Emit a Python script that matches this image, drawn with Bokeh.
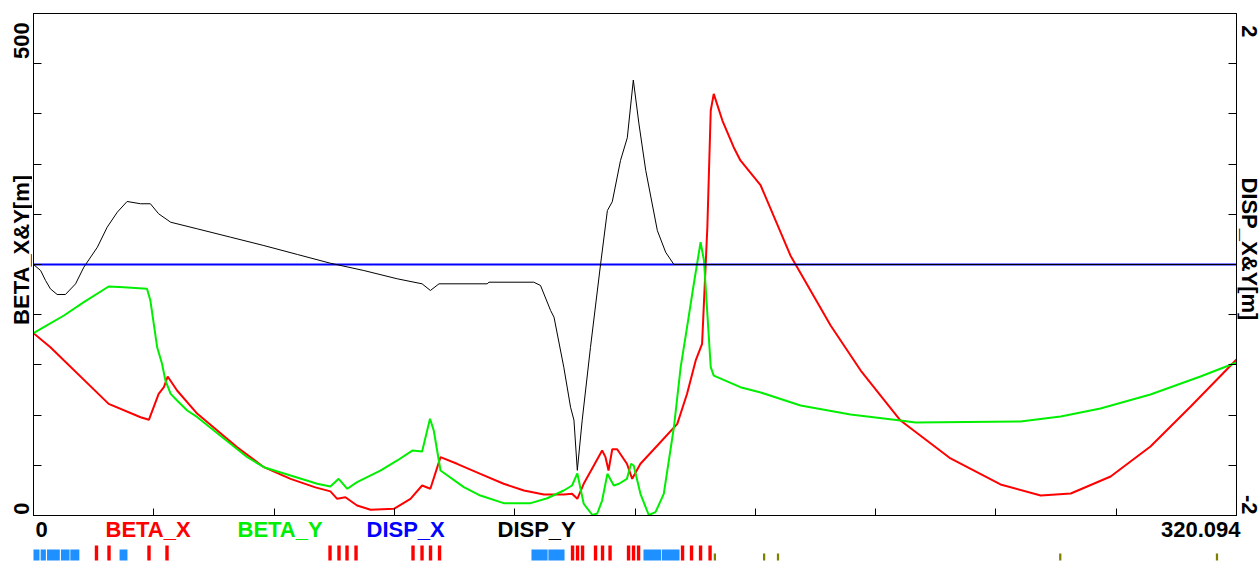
import math
from bokeh.plotting import figure
from bokeh.models import Range1d, LinearAxis, FixedTicker
from bokeh.core.properties import value
from bokeh.layouts import column, row
from bokeh.embed import file_html
from bokeh.resources import INLINE

# ---------------- data ----------------
S_MAX = 320.094

BETA_X_S = [0, 4.5, 20.0, 28.5, 30.7, 33.3, 34.7, 35.7, 38.2, 43.6, 48.9, 54.2, 61.3, 68.4, 75.0,
            79.0, 80.8, 83.0, 86.1, 89.7, 95.9, 100.3, 103.4, 105.6, 108.3, 112.7, 118.9, 125.1,
            130.5, 135.8, 141.1, 143.3, 144.7, 146.4, 149.1, 151.3, 152.2, 153.0, 154.0, 155.3,
            157.9, 159.3, 161.5, 166.0, 171.3, 173.9, 176.2, 177.9, 179.3, 180.2, 181.0, 183.3,
            186.3, 188.1, 193.5, 201.4, 212.1, 220.1, 230.7, 244.0, 257.3, 268.0, 276.0, 286.6,
            297.2, 307.9, 320.094]
BETA_X = [181.6, 167.6, 111.2, 97.9, 95.3, 121.2, 127.8, 138.4, 124.5, 101.3, 84.7, 68.0, 48.1, 36.5, 28.0,
          24.0, 16.6, 18.2, 10.0, 5.7, 6.6, 16.6, 29.9, 26.6, 58.1, 51.5, 41.5, 31.6,
          24.9, 20.9, 20.9, 21.6, 16.6, 31.6, 49.8, 64.7, 58.1, 44.8, 66.0, 66.0,
          51.5, 36.5, 51.5, 69.7, 91.3, 121.2, 154.4, 171.0, 287.2, 403.4, 420.0, 393.4,
          366.8, 353.6, 328.7, 259.0, 189.2, 144.4, 94.6, 56.8, 30.9, 19.9, 21.9, 38.8,
          68.7, 108.6, 155.4]

BETA_Y_S = [0, 2.75, 8.1, 13.4, 20.0, 24.0, 30.2, 31.1, 32.9, 34.2, 35.1, 36.5, 38.2, 40.9, 43.6,
            48.0, 52.4, 56.9, 61.3, 68.4, 75.5, 79.0, 81.2, 83.5, 86.1, 92.3, 96.8, 100.8, 103.4,
            105.5, 106.5, 108.3, 114.5, 118.9, 125.1, 132.3, 136.7, 141.1, 143.3, 144.7, 146.4,
            148.7, 150.0, 151.3, 152.7, 154.4, 155.8, 157.9, 159.0, 159.7, 161.5, 163.7, 165.5,
            167.7, 170.4, 172.2, 173.9, 175.7, 177.5, 178.4, 180.2, 181.0, 188.1, 193.5, 204.1,
            217.4, 230.7, 234.7, 262.6, 273.3, 283.9, 297.2, 310.5, 320.094]
BETA_Y = [181.6, 187.6, 199.2, 212.5, 228.1, 227.4, 225.8, 214.1, 167.6, 151.1, 134.5, 121.2, 114.5, 104.6, 97.9,
          84.7, 71.4, 58.1, 48.1, 39.8, 31.6, 28.9, 36.5, 26.6, 33.2, 44.8, 54.8, 64.7, 63.7,
          96.3, 84.7, 44.8, 28.2, 19.9, 12.3, 12.3, 17.2, 24.9, 29.9, 42.0, 11.7,
          0.5, 2.0, 14.9, 41.5, 29.9, 31.6, 36.5, 51.5, 49.8, 21.6, 0.5, 3.3,
          21.6, 87.9, 147.7, 187.6, 230.8, 272.2, 254.0, 147.7, 139.4, 127.8, 122.5, 109.6,
          100.6, 94.6, 92.6, 93.6, 98.6, 106.6, 120.5, 138.4, 152.4]

DISP_X_S = [0, S_MAX]
DISP_X = [0.0, 0.0]

DISP_Y_S = [0, 1.9, 3.2, 4.5, 6.3, 8.5, 11.2, 13.4, 17.0, 19.6, 22.3, 24.9, 28.5, 31.1, 33.3, 36.5,
            43.6, 52.4, 61.3, 70.2, 79.0, 87.9, 96.8, 103.4, 105.6, 107.9, 120.7, 121.2, 133.1,
            134.9, 137.6, 138.5, 141.1, 142.9, 143.8, 144.7, 146.0, 148.2, 150.9, 152.7, 154.0,
            156.2, 158.0, 159.6, 161.1, 162.9, 166.0, 168.2, 170.4, 320.094]
DISP_Y = [0.0, -0.048, -0.127, -0.194, -0.239, -0.239, -0.154, -0.021, 0.138, 0.297, 0.417, 0.502, 0.484, 0.484, 0.404, 0.337,
          0.284, 0.218, 0.151, 0.080, 0.010, -0.048, -0.114, -0.154, -0.207, -0.154, -0.154, -0.141, -0.141,
          -0.167, -0.367, -0.42, -0.818, -1.137, -1.24, -1.64, -1.24, -0.66, 0.005, 0.43, 0.50,
          0.83, 1.01, 1.47, 1.12, 0.75, 0.27, 0.098, 0.0, 0.0]

# lattice elements (s positions in m)
QUAD_START = [0.0, 1.9, 3.6, 7.3, 9.8, 22.9, 132.5, 137.0, 162.3, 167.2]
QUAD_END = [1.6, 3.3, 7.0, 9.6, 12.2, 25.0, 136.8, 141.3, 167.0, 171.9]
BEND_S = [16.76, 20.09, 30.73, 35.52, 78.90, 81.29, 83.42, 85.82, 100.98, 103.38, 105.64, 108.04,
          143.43, 144.76, 146.09, 149.55, 151.41, 153.41, 158.33, 159.66, 161.00,
          172.70, 175.09, 177.49, 180.02]
OTHER_S = [181.3, 194.4, 198.1, 273.2, 314.9]

LEGEND = ["BETA_X", "BETA_Y", "DISP_X", "DISP_Y"]
LEGEND_COLORS = ["#ff0000", "#00ee00", "#0000ff", "#000000"]
X_LABELS = ["0", "320.094"]
LEFT_LABELS = ["0", "500"]
RIGHT_LABELS = ["-2", "2"]
LEFT_TITLE = "BETA_X&Y[m]"
RIGHT_TITLE = "DISP_X&Y[m]"

# ---------------- layout (page pixels) ----------------
FONT = value("Liberation Sans")
FS = "22px"
PAGE_W, PAGE_H = 1260, 565
FX0, FX1 = 33, 1236      # frame left / right
FY0, FY1 = 13, 515       # frame top / bottom
ROW_H = 516              # height of the top row
B = 1                    # tiny border around the main frame


def s_at(px):
    return (px - FX0) * S_MAX / (FX1 - FX0)


def beta_at(py):
    return (FY1 - py) * 500.0 / (FY1 - FY0)


def disp_at(py):
    return 2.0 - (py - FY0) * 4.0 / (FY1 - FY0)


def clean(f):
    f.grid.visible = False
    f.outline_line_color = None
    f.background_fill_color = "white"
    f.border_fill_color = "white"


# ---- main plot ----
p = figure(width=(FX1 - FX0) + 2 * B, height=ROW_H, x_range=Range1d(0, S_MAX), y_range=Range1d(0, 500),
           output_backend="svg", toolbar_location=None,
           min_border_left=B, min_border_right=B, min_border_top=FY0, min_border_bottom=ROW_H - FY1)
p.extra_y_ranges = {"disp": Range1d(-2, 2)}
clean(p)
p.outline_line_color = "black"
p.outline_line_width = 1


def style_axis(ax, tick_len):
    ax.major_tick_in = tick_len
    ax.major_tick_out = 0
    ax.minor_tick_in = 0
    ax.minor_tick_out = 0
    ax.major_label_text_color = None
    ax.major_label_standoff = 0
    ax.axis_line_color = "black"
    ax.major_tick_line_color = "black"


xa = p.xaxis[0]
xa.ticker = FixedTicker(ticks=[S_MAX * i / 10 for i in range(11)])
style_axis(xa, 7)
ya = p.yaxis[0]
ya.ticker = FixedTicker(ticks=[50 * i for i in range(11)])
style_axis(ya, 8)
ra = LinearAxis(y_range_name="disp", ticker=FixedTicker(ticks=[-2 + 0.4 * i for i in range(11)]))
style_axis(ra, 8)
p.add_layout(ra, "right")

p.line(BETA_X_S, BETA_X, color="#ff0000", line_width=2)
p.line(BETA_Y_S, BETA_Y, color="#00ee00", line_width=2)
p.line(DISP_X_S, DISP_X, color="#0000ff", line_width=2, y_range_name="disp")
p.line(DISP_Y_S, DISP_Y, color="#000000", line_width=1, y_range_name="disp")

TXT = dict(text_font=FONT, text_font_style="bold", text_font_size=FS, text_baseline="middle")

# ---- left text column ----
LW = FX0 - B
left = figure(width=LW, height=ROW_H, x_range=Range1d(0, LW), y_range=Range1d(beta_at(ROW_H), beta_at(0)),
              output_backend="svg", toolbar_location=None, min_border=0,
              x_axis_location=None, y_axis_location=None)
clean(left)
LX = 20.5
left.text(x=[LX], y=[beta_at(9)], text=[LEFT_LABELS[1]], angle=math.pi / 2, text_align="right",
          text_color="black", **TXT)
left.text(x=[LX], y=[beta_at(509)], text=[LEFT_LABELS[0]], angle=math.pi / 2, text_align="center",
          text_color="black", **TXT)
left.text(x=[LX], y=[beta_at(243)], text=[LEFT_TITLE], angle=math.pi / 2, text_align="center",
          text_color="black", **TXT)

# ---- right text column ----
RX0 = FX1 + B
RW = PAGE_W - RX0
right = figure(width=RW, height=ROW_H, x_range=Range1d(RX0, PAGE_W), y_range=Range1d(disp_at(ROW_H), disp_at(0)),
               output_backend="svg", toolbar_location=None, min_border=0,
               x_axis_location=None, y_axis_location=None)
clean(right)
RXT = 1248.5
right.text(x=[RXT], y=[disp_at(12)], text=[RIGHT_LABELS[1]], angle=-math.pi / 2, text_align="left",
           text_color="black", **TXT)
right.text(x=[RXT], y=[disp_at(515)], text=[RIGHT_LABELS[0]], angle=-math.pi / 2, text_align="right",
           text_color="black", **TXT)
right.text(x=[RXT], y=[disp_at(242)], text=[RIGHT_TITLE], angle=-math.pi / 2, text_align="center",
           text_color="black", **TXT)

# ---- bottom: x labels, legend texts and lattice strip ----
BH = PAGE_H - ROW_H
bot = figure(width=PAGE_W, height=BH, x_range=Range1d(s_at(0), s_at(PAGE_W)), y_range=Range1d(PAGE_H, ROW_H),
             output_backend="svg", toolbar_location=None, min_border=0,
             x_axis_location=None, y_axis_location=None)
clean(bot)
TEXT_MID = 529
bot.text(x=[s_at(35)], y=[TEXT_MID], text=[X_LABELS[0]], text_align="left", text_color="black", **TXT)
bot.text(x=[s_at(1240)], y=[TEXT_MID], text=[X_LABELS[1]], text_align="right", text_color="black", **TXT)
bot.text(x=[s_at(px) for px in (105, 237, 366, 497)], y=[TEXT_MID] * 4, text=LEGEND,
         text_color=LEGEND_COLORS, text_align="left", **TXT)

STRIP_BOTTOM = 560
bot.quad(left=QUAD_START, right=QUAD_END, bottom=STRIP_BOTTOM, top=549, color="#1e90ff", line_color=None)
bot.vbar(x=BEND_S, width=0.9, bottom=STRIP_BOTTOM, top=545, color="#ff0000", line_color=None)
bot.vbar(x=OTHER_S, width=0.6, bottom=STRIP_BOTTOM, top=553, color="#808000", line_color=None)

layout = column(row(left, p, right, spacing=0), bot, spacing=0)
open("out.html", "w").write(file_html(layout, INLINE))
